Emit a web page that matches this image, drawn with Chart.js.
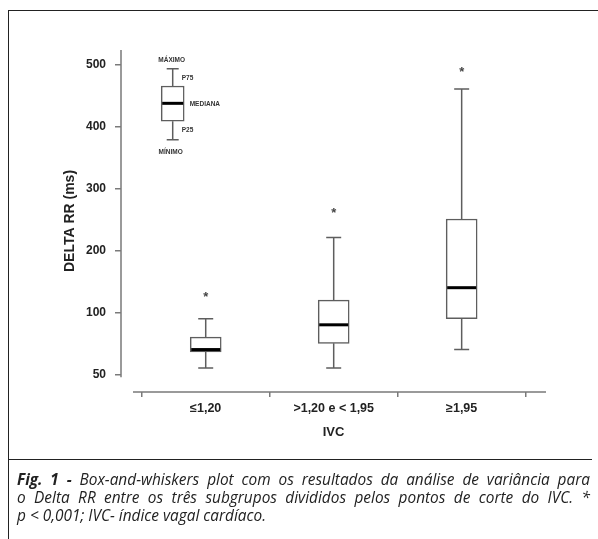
<!DOCTYPE html>
<html>
<head>
<meta charset="utf-8">
<script src="https://cdn.jsdelivr.net/npm/chart.js@4.4.1/dist/chart.umd.min.js"></script>
<style>
  html, body { margin: 0; padding: 0; background: #fff; }
  body { width: 598px; height: 539px; position: relative; overflow: hidden; }
  #frame { position: absolute; left: 8px; top: 10px; width: 600px; height: 540px; border-left: 1.5px solid #222; border-top: 1.5px solid #222; }
  #sep { position: absolute; left: 8px; top: 459px; width: 584px; border-top: 1.5px solid #222; }
  #wrap { position: absolute; left: 0; top: 0; width: 598px; height: 460px; }
  #caption { position: absolute; left: 17px; top: 471px; width: 573px; font-family: 'Open Sans', Lato, sans-serif; font-style: italic; font-size: 15.4px; line-height: 18px; color: #222; }
  #caption b { font-weight: 700; }
  .j { text-align: justify; text-align-last: justify; white-space: nowrap; }
</style>
</head>
<body>
<div id="frame"></div>
<div id="wrap"><canvas id="boxChart" width="598" height="460"></canvas></div>
<div id="sep"></div>
<div id="caption">
  <div class="j"><b>Fig. 1 -</b> Box-and-whiskers plot com os resultados da análise de variância para</div>
  <div class="j">o Delta RR entre os três subgrupos divididos pelos pontos de corte do IVC. *</div>
  <div>p &lt; 0,001; IVC- índice vagal cardíaco.</div>
</div>
<script>
// IVC groups
const categories = ['≤1,20', '>1,20 e < 1,95', '≥1,95']

// Delta RR (ms) per group
const minimum = [55, 55, 70]
const p25 = [68, 75, 95]
const median = [70, 90, 140]
const p75 = [80, 120, 251]
const maximum = [95, 221, 461]
const starValues = [132, 267, 495]

// y axis is broken: 50 sits where 0 would be
const yTicks = [50, 100, 200, 300, 400, 500]

// example box drawn in the corner as a key
const keyMin = 379
const keyP25 = 409
const keyMedian = 438
const keyP75 = 466
const keyMax = 494
const keyLabels = ['MÁXIMO', 'P75', 'MEDIANA', 'P25', 'MÍNIMO']
const keyX = 0.742

const toAxis = (v) => (v >= 100 ? v : (v - 50) * 2)
const fromAxis = (a) => (a >= 100 ? a : 50 + a / 2)

const lineColor = '#5e5e5e'
const axisColor = '#7a7a7a'
const textColor = '#222'
const fontFamily = "'Liberation Sans', Arial, sans-serif"

// whiskers, medians, stars and axis lines
const boxExtras = {
  id: 'boxExtras',
  afterDatasetsDraw(chart) {
    const ctx = chart.ctx
    const xs = chart.scales.x
    const ys = chart.scales.y
    const area = chart.chartArea

    ctx.save()
    ctx.strokeStyle = axisColor
    ctx.lineWidth = 1.5
    ctx.beginPath()
    ctx.moveTo(area.left, area.top)
    ctx.lineTo(area.left, ys.getPixelForValue(toAxis(50)) + 3)
    ctx.moveTo(area.left + 12, area.bottom)
    ctx.lineTo(area.right, area.bottom)
    ctx.stroke()

    const drawBox = (x, lo, q1, med, q3, hi, boxW, capW) => {
      const px = xs.getPixelForValue(x)
      const yLo = ys.getPixelForValue(toAxis(lo))
      const yQ1 = ys.getPixelForValue(toAxis(q1))
      const yMed = ys.getPixelForValue(toAxis(med))
      const yQ3 = ys.getPixelForValue(toAxis(q3))
      const yHi = ys.getPixelForValue(toAxis(hi))
      ctx.strokeStyle = lineColor
      ctx.lineWidth = 1.5
      ctx.beginPath()
      ctx.moveTo(px, yHi)
      ctx.lineTo(px, yQ3)
      ctx.moveTo(px, yQ1)
      ctx.lineTo(px, yLo)
      ctx.moveTo(px - capW / 2, yHi)
      ctx.lineTo(px + capW / 2, yHi)
      ctx.moveTo(px - capW / 2, yLo)
      ctx.lineTo(px + capW / 2, yLo)
      ctx.stroke()
      ctx.strokeStyle = '#000'
      ctx.lineWidth = 3
      ctx.beginPath()
      ctx.moveTo(px - boxW / 2 + 1, yMed)
      ctx.lineTo(px + boxW / 2 - 1, yMed)
      ctx.stroke()
      return { px, yLo, yQ1, yMed, yQ3, yHi }
    }

    categories.forEach((c, i) => {
      drawBox(i + 1, minimum[i], p25[i], median[i], p75[i], maximum[i], 31, 15)
    })

    // asterisks
    ctx.fillStyle = '#444'
    ctx.font = 'bold 13px ' + fontFamily
    ctx.textAlign = 'center'
    ctx.textBaseline = 'alphabetic'
    categories.forEach((c, i) => {
      const px = xs.getPixelForValue(i + 1)
      const py = ys.getPixelForValue(toAxis(starValues[i]))
      ctx.fillText('*', px, py + 8)
    })

    // key box
    const k = drawBox(keyX, keyMin, keyP25, keyMedian, keyP75, keyMax, 23, 12)
    ctx.fillStyle = '#333'
    ctx.font = 'bold 6.5px ' + fontFamily
    ctx.textBaseline = 'middle'
    ctx.textAlign = 'center'
    ctx.fillText(keyLabels[0], k.px - 1, k.yHi - 8)
    ctx.fillText(keyLabels[4], k.px - 2, k.yLo + 12)
    ctx.textAlign = 'left'
    ctx.fillText(keyLabels[1], k.px + 9, (k.yHi + k.yQ3) / 2 + 1)
    ctx.fillText(keyLabels[2], k.px + 17, k.yMed + 1)
    ctx.fillText(keyLabels[3], k.px + 9, (k.yQ1 + k.yLo) / 2)
    ctx.restore()
  }
}

new Chart(document.getElementById('boxChart'), {
  type: 'bar',
  data: {
    datasets: [
      {
        label: 'IVC',
        data: categories.map((c, i) => ({ x: i + 1, y: [toAxis(p25[i]), toAxis(p75[i])] })),
        backgroundColor: '#fff',
        borderColor: lineColor,
        borderWidth: 1.5,
        borderSkipped: false,
        barThickness: 31,
        grouped: false
      },
      {
        label: 'key',
        data: [{ x: keyX, y: [toAxis(keyP25), toAxis(keyP75)] }],
        backgroundColor: '#fff',
        borderColor: lineColor,
        borderWidth: 1.5,
        borderSkipped: false,
        barThickness: 23,
        grouped: false
      }
    ]
  },
  options: {
    responsive: false,
    animation: false,
    layout: { padding: { left: 54, top: 50, right: 52, bottom: 0 } },
    plugins: {
      legend: { display: false },
      tooltip: { enabled: false }
    },
    scales: {
      x: {
        type: 'linear',
        min: 0.338,
        max: 3.659,
        offset: false,
        afterBuildTicks: (s) => {
          s.ticks = categories.map((c, i) => ({ value: i + 1 }))
        },
        afterFit: (s) => {
          s.height = 68
        },
        ticks: {
          callback: (v) => categories[v - 1],
          autoSkip: false,
          maxRotation: 0,
          padding: 4,
          color: textColor,
          font: { family: fontFamily, weight: 'bold', size: 12.5 }
        },
        grid: {
          drawOnChartArea: false,
          drawTicks: true,
          tickLength: 5,
          color: axisColor,
          lineWidth: 1.5
        },
        border: { display: false },
        title: {
          display: true,
          text: 'IVC',
          color: textColor,
          font: { family: fontFamily, weight: 'bold', size: 13 },
          padding: { top: 0, bottom: 20 }
        }
      },
      y: {
        min: -28.6,
        max: 524.2,
        afterBuildTicks: (s) => {
          s.ticks = yTicks.map((v) => ({ value: toAxis(v) }))
        },
        afterFit: (s) => {
          s.width = 67
        },
        ticks: {
          callback: (v) => String(fromAxis(v)),
          padding: 9,
          color: textColor,
          font: { family: fontFamily, weight: 'bold', size: 12 }
        },
        grid: {
          drawOnChartArea: false,
          drawTicks: true,
          tickLength: 6,
          color: axisColor,
          lineWidth: 1.5
        },
        border: { display: false },
        title: {
          display: true,
          text: 'DELTA RR (ms)',
          color: textColor,
          font: { family: fontFamily, weight: 'bold', size: 14 },
          padding: { top: 8, bottom: 0 }
        }
      }
    }
  },
  plugins: [boxExtras]
})
</script>
</body>
</html>
